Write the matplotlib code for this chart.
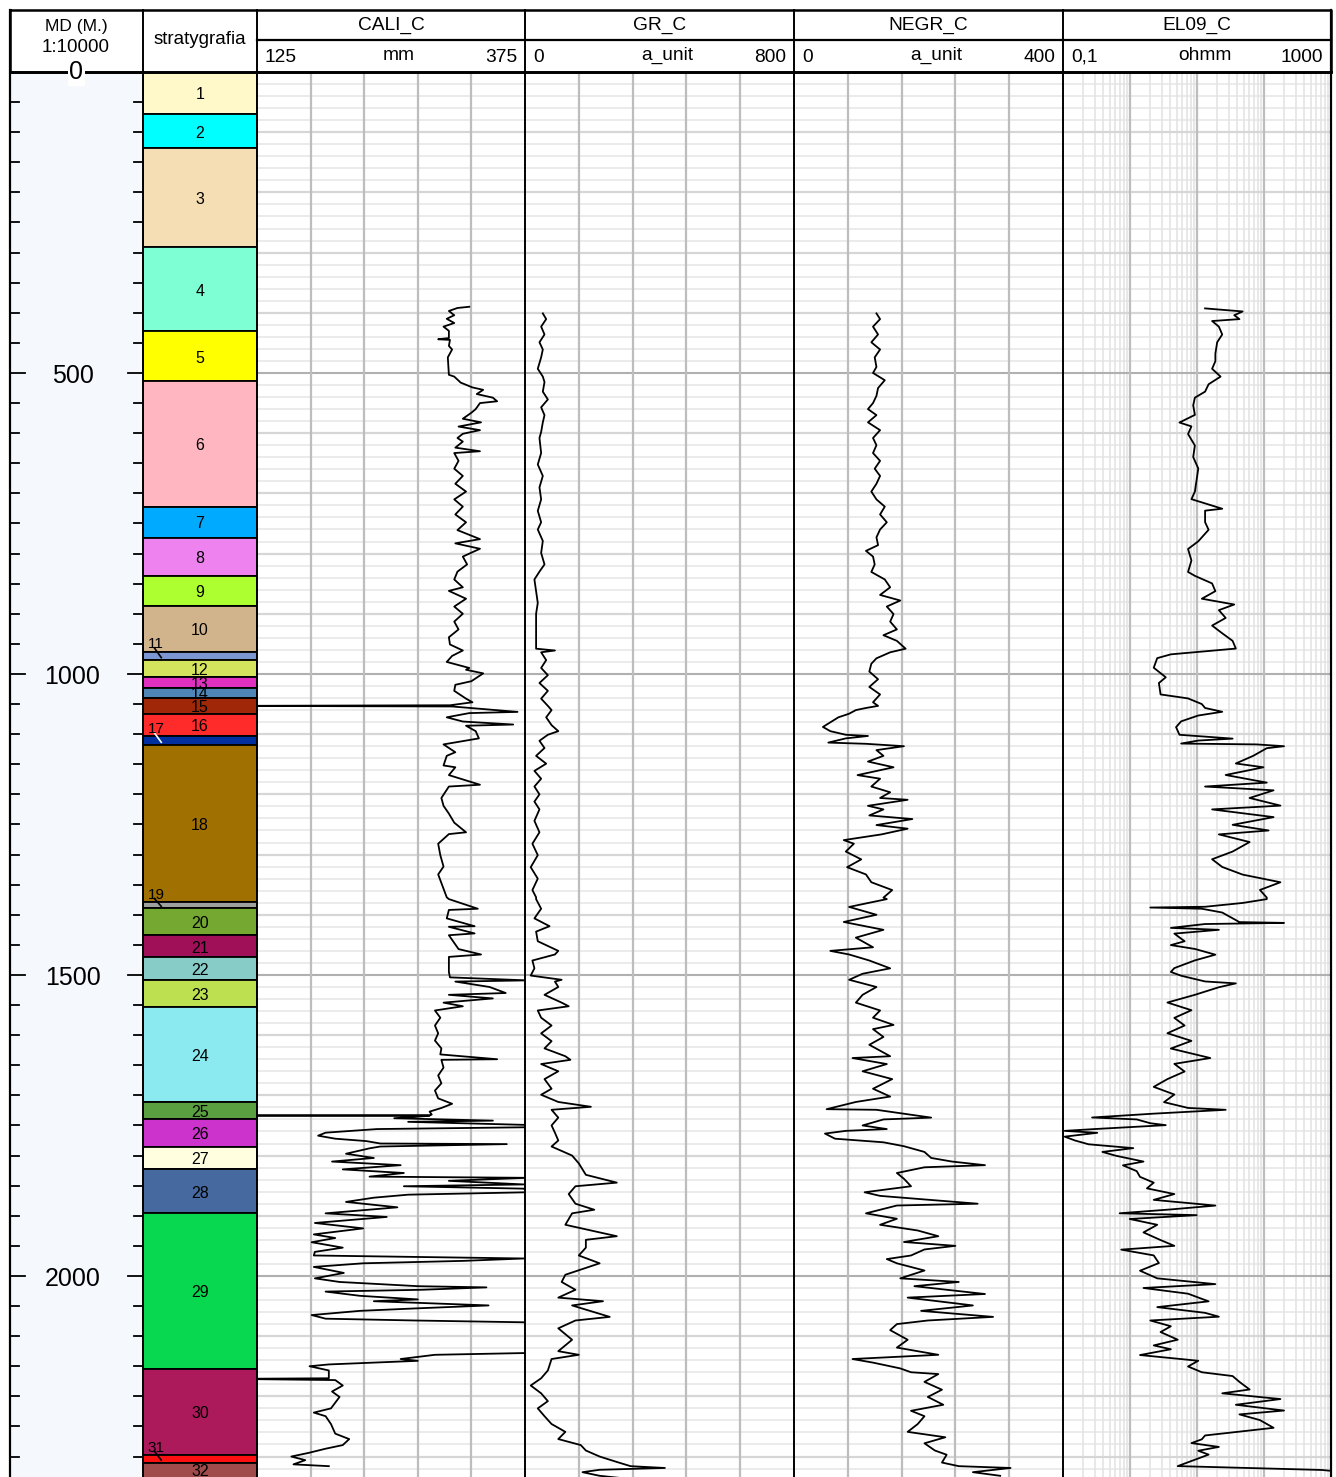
import numpy as np
import matplotlib
matplotlib.use("Agg")
import matplotlib.pyplot as plt
from matplotlib.patches import Rectangle

plt.rcParams['font.family'] = ['Liberation Sans', 'DejaVu Sans']

W, H = 1336, 1477
TOP = 72
DMAX = 2334

# ---- stratigraphy ----
strat_names = [str(i) for i in range(1, 33)]
strat_top = [0, 69.8, 127, 291.5, 431, 514, 721.8, 773.3, 836.5, 887.5, 962.8, 977,
             1005.8, 1022.9, 1040.2, 1066, 1103.8, 1117.6, 1379, 1389, 1434.4, 1470.4,
             1508, 1553.5, 1711.7, 1740, 1785, 1823, 1896, 2154, 2297, 2310]
strat_base = strat_top[1:] + [2400]
strat_colors = ['#fff8c8', '#00ffff', '#f5deb3', '#7fffd4', '#ffff00', '#ffb6c1', '#00aaff',
                '#ee82ee', '#adff2f', '#d2b48c', '#7b96d0', '#d4e45c', '#e030c0', '#4f86b8',
                '#a02808', '#ff2a2a', '#0030a0', '#a07000', '#a0a0a0', '#74a830', '#a01058',
                '#88ccc8', '#bce050', '#8beaf0', '#5aa040', '#cc33cc', '#ffffe0', '#466aa0',
                '#08d850', '#ac1a5c', '#ff1010', '#a04c4c']
thin_layers = ['11', '17', '19', '31']

# ---- CALI_C (mm) ----
cali_depth = [390, 392, 397, 404, 410, 417, 423, 430, 442, 444, 445, 455, 461, 474, 503, 506, 516, 524,
              528, 535, 541, 547, 550, 560, 566, 576, 582, 589, 595, 601, 608, 614, 624, 630, 633, 646,
              659, 671, 684, 697, 710, 722, 735, 748, 761, 776, 783, 792, 805, 818, 830, 843, 856, 862,
              875, 888, 900, 913, 926, 939, 951, 961, 970, 980, 990, 993, 999, 1006, 1012, 1018, 1028,
              1041, 1047, 1052, 1053, 1054, 1063, 1065, 1072, 1079, 1084, 1086, 1095, 1107, 1117, 1123,
              1130, 1136, 1152, 1155, 1168, 1184, 1187, 1206, 1219, 1232, 1247, 1263, 1266, 1282, 1301,
              1320, 1333, 1352, 1371,
              1374, 1390, 1392, 1406, 1419, 1420, 1431, 1434, 1457, 1466, 1470, 1495, 1504, 1509, 1511,
              1520, 1530, 1533, 1539, 1546, 1552, 1559, 1571, 1584, 1597, 1609, 1622, 1632, 1640, 1641,
              1654, 1667, 1680, 1692, 1705, 1714, 1721, 1727, 1732, 1733, 1733.5, 1734, 1738, 1742, 1744,
              1749, 1753, 1756, 1762, 1767, 1772, 1776, 1780, 1781, 1785, 1788, 1797, 1804, 1810, 1816,
              1823, 1829, 1835, 1837, 1842, 1848, 1851, 1855, 1861, 1865, 1870, 1877, 1886, 1896, 1902,
              1912, 1921, 1931, 1937, 1944, 1953, 1960, 1966, 1971, 1975, 1979, 1985, 1995, 2004, 2010,
              2017, 2019, 2023, 2026, 2033, 2039, 2042, 2049, 2054, 2058, 2065, 2071, 2074, 2077, 2080,
              2128, 2131, 2138, 2141, 2147, 2150, 2157, 2170, 2171, 2173, 2182, 2192, 2201, 2220, 2227,
              2233, 2246, 2262, 2271, 2281, 2287, 2294, 2300, 2306, 2313, 2316]
cali_value = [323, 312, 304, 309, 302, 309, 299, 304, 304, 294, 305, 304, 307, 303, 304, 309, 315, 326,
              336, 330, 345, 349, 333, 329, 325, 317, 334, 313, 333, 317, 312, 317, 310, 333, 309, 313,
              309, 317, 310, 320, 309, 317, 310, 320, 312, 333, 310, 333, 317, 321, 312, 309, 317, 304,
              320, 309, 317, 309, 313, 304, 305, 317, 307, 302, 323, 320, 336, 330, 325, 310, 309,
              320, 326, 305, 100, 307, 368, 323, 302, 317, 364, 320, 329, 332, 299, 304,
              310, 302, 299, 310, 304, 333, 304, 297, 299, 304, 309, 320, 304, 294, 296,
              299, 294, 298, 302,
              304, 331, 304, 302, 328, 304, 328, 304, 313, 334, 304, 304, 305, 377, 310,
              342, 357, 304, 345, 299, 317, 291, 296, 291, 294, 291, 297, 296, 349, 297,
              299, 294, 297, 291, 294, 307, 297, 286, 288, 286, 100, 286, 253, 345, 266,
              374, 377, 237, 189, 182, 198, 227, 240, 358, 240, 230, 208, 234, 195, 259,
              205, 262, 230, 377, 304, 374, 262, 374, 377, 266, 234, 208, 256, 189, 246,
              179, 224, 178, 198, 176, 205, 179, 178, 374, 317, 224, 178, 206, 179, 202,
              275, 339, 278, 189, 221, 275, 234, 341, 272, 221, 176, 189, 272, 374, 377,
              377, 291, 259, 275, 192, 174, 192, 192, 100, 198, 205, 195, 202, 194, 178,
              189, 194, 198, 211, 205, 189, 173, 157, 170, 159, 192]

# ---- GR_C (a_unit) ----
gr_depth = [401, 410.5, 423, 436, 449, 461, 474, 493, 506, 515, 531, 544, 557, 570, 582, 598, 608, 633,
            652, 671, 690, 710, 729, 748, 760, 779, 799, 818, 830, 843, 862, 882, 900, 926, 958, 961,
            964, 977, 990, 1002, 1015, 1028, 1041, 1053, 1060, 1072, 1085, 1095, 1101, 1111, 1123, 1136,
            1149, 1161, 1174, 1187, 1200, 1212, 1225, 1244, 1263, 1282, 1301, 1321, 1340, 1359, 1371,
            1374, 1390, 1406, 1419, 1428, 1444, 1460, 1466, 1476, 1489, 1501, 1508, 1511, 1520, 1533,
            1546, 1552, 1559, 1571, 1584, 1597, 1610, 1622, 1635, 1641, 1648, 1660, 1673, 1689, 1699,
            1711, 1719, 1724, 1737, 1750, 1762, 1775, 1785, 1800, 1813, 1832, 1845, 1851, 1864, 1880,
            1890, 1896, 1915, 1934, 1940, 1953, 1966, 1979, 1998, 2010, 2023, 2036, 2042, 2049, 2068,
            2074, 2087, 2106, 2125, 2131, 2138, 2157, 2170, 2182, 2195, 2208, 2220, 2233, 2246, 2259,
            2271, 2281, 2290, 2300, 2309, 2316, 2319, 2322, 2326, 2332, 2338]
gr_value = [53, 63, 48, 58, 43, 53, 48, 38, 53, 58, 53, 68, 48, 58, 53, 48, 43, 48,
            38, 53, 43, 48, 38, 48, 38, 53, 48, 58, 43, 28, 33, 38, 33, 33, 33, 89,
            48, 63, 48, 68, 43, 68, 48, 68, 79, 63, 79, 99, 68, 43, 58, 33,
            63, 28, 48, 28, 43, 28, 43, 28, 43, 22, 38, 17, 38, 22, 33,
            33, 48, 28, 73, 33, 38, 99, 89, 22, 28, 17, 109, 89, 99, 58,
            109, 130, 38, 48, 79, 48, 79, 58, 120, 135, 48, 99, 58, 79, 48,
            99, 196, 79, 99, 79, 89, 99, 79, 140, 160, 181, 273, 150, 130, 150,
            206, 140, 120, 273, 181, 181, 160, 222, 120, 109, 150, 99, 232, 140, 252,
            150, 99, 140, 99, 160, 79, 68, 48, 17, 48, 68, 38, 58, 79, 120,
            99, 166, 181, 222, 273, 314, 416, 222, 171, 222, 324]

# ---- NEGR_C (a_unit) ----
negr_depth = [401, 410.5, 423, 436, 449, 461, 474, 490, 500, 512, 525, 538, 550, 560, 570, 582, 595,
              608, 620, 633, 646, 659, 671, 684, 697, 710, 722, 735, 748, 760, 773, 786, 795.5, 805,
              818, 830.5, 843, 856, 868.7, 878, 888, 900.5, 913, 926, 935.6, 945, 958, 964, 974, 983,
              996, 1008.7, 1021.5, 1034, 1047, 1053, 1056.5, 1060, 1066, 1072, 1079, 1088, 1095, 1101,
              1103, 1107, 1114, 1116, 1120, 1126.5, 1136, 1145.5, 1155, 1168, 1174, 1187, 1196.5, 1206,
              1209, 1219, 1225, 1235, 1241, 1251, 1257, 1266.5, 1276, 1282, 1295, 1308, 1321, 1333,
              1346, 1359, 1371.5,
              1374, 1387, 1400, 1412, 1425, 1438, 1454, 1460, 1466, 1476, 1489, 1498, 1508, 1520, 1533,
              1546, 1559, 1571, 1583, 1590, 1603, 1616, 1635, 1638, 1648, 1660, 1673, 1689, 1702, 1711,
              1723, 1724, 1737, 1740, 1750, 1756, 1759, 1763.5, 1772, 1778, 1784.5, 1794, 1804, 1810,
              1816, 1819.5, 1829, 1838.6, 1851, 1861, 1867, 1880, 1883, 1896, 1905, 1915, 1924.5, 1934,
              1943.6, 1950, 1956, 1966, 1972, 1979, 1991, 2004, 2010, 2017, 2030, 2036, 2049, 2058,
              2068, 2074, 2080, 2090, 2106, 2119, 2131, 2138, 2144, 2153.6, 2160, 2163, 2176, 2189,
              2201, 2214, 2224, 2233, 2246, 2259, 2268, 2278, 2290, 2297, 2310, 2316, 2319, 2326, 2332]
negr_value = [122.6, 128, 117.5, 125, 115, 128, 120, 122.6, 117.5, 135, 125, 122.6, 117.5, 110, 122.6,
              110, 128, 117.5, 122.6, 117.5, 128, 120, 128, 122.6, 115, 122.6, 135, 128, 138, 128,
              122.6, 125, 107, 117.5, 120, 115, 135, 143, 128, 158, 138, 148, 143, 153, 133, 153,
              166, 143, 122.6, 115, 112, 125, 112, 128, 117.5, 125, 107, 92, 82, 66, 56, 43, 54, 77,
              110, 77, 51, 107, 163.5, 122.6, 133, 110, 148, 94.5, 128, 115, 143, 128, 169, 110, 133,
              112, 176, 122.6, 169, 130, 74, 89, 77, 100, 79, 107, 115, 146, 133,
              138, 82, 122.6, 74, 133, 92, 117.5, 54, 82, 112, 143, 102, 82, 122.6, 102,
              92, 128, 117.5, 148, 117.5, 133, 112, 143, 87, 138, 102, 146, 117.5, 143, 92,
              48.5, 122.6, 204, 133, 102, 138, 77, 46, 61, 133, 163.5, 194, 204, 235,
              284, 194, 153, 163.5, 174, 105, 128, 273, 153, 107, 153, 128, 184, 214.6,
              163.5, 240, 194, 174, 138, 153, 194, 158, 245, 179, 284, 169, 266, 189,
              296, 199, 153, 143, 169, 153, 214.6, 87, 117.5, 158, 174, 214.6, 194, 220,
              199, 222, 174, 194, 184, 169, 225, 194, 209.5, 227, 220, 245, 322, 266, 306.6]

# ---- EL09_C (ohmm) ----
el_depth = [392.7, 397.8, 404, 410.5, 413.7, 423, 436, 449, 467.8, 480.5, 493, 506, 518.7, 531, 541,
            553.7, 569.6, 582.3, 588.7, 601.4, 620.5, 639.6, 658.7, 677.8, 697, 709.6, 725.5, 728.7,
            747.8, 760.5, 779.6, 792.4, 811.5, 830.5, 837, 849.6, 862.4, 875, 884.6, 894, 906.9, 919.6,
            932.4, 945, 957.8, 967.4, 973.7, 989.6, 1005.5, 1015, 1034, 1040.6, 1050, 1056.5, 1062.8,
            1069, 1078.7, 1088.3, 1101, 1107.4, 1110.6, 1115.6, 1117, 1120, 1123.3, 1136, 1148.7, 1155,
            1167.8, 1180.5, 1187, 1193.3, 1206, 1218.7, 1225, 1237.8, 1250.6, 1260, 1266.5, 1279.2,
            1295, 1307.8, 1320.6, 1333.3, 1346, 1358.8, 1371.5,
            1374, 1380.4, 1386.7, 1388, 1390, 1396.3, 1402.7, 1412.2, 1413.5, 1415.4, 1421.8, 1425,
            1431.3, 1444, 1450.4, 1456.8, 1466.3, 1475.8, 1488.6, 1495, 1501.3, 1510.8, 1514, 1520.4,
            1533, 1545.8, 1558.6, 1571.3, 1584, 1596.8, 1609.5, 1622.2, 1638, 1647.7, 1660.4, 1673,
            1685.9, 1698.6, 1711.3, 1720.9, 1724, 1730.4, 1736.8, 1740, 1746.3, 1749.5, 1755.9, 1759,
            1762.2, 1768.6, 1775, 1781.3, 1787.7, 1794, 1800.4, 1810, 1816.3, 1825.9, 1835.4, 1845,
            1854.5, 1864, 1873.6, 1883.1, 1889.5, 1895.9, 1899, 1905.4, 1915, 1927.7, 1940.4, 1950,
            1956.3, 1965.9, 1978.6, 1991.3, 2004, 2013.6, 2020, 2029.5, 2042.2, 2051.8, 2061.3, 2067.7,
            2074, 2083.6, 2093.2, 2105.9, 2115.4, 2121.8, 2131.4, 2140.9, 2150.4, 2160, 2166.3, 2176,
            2188.6, 2195, 2204.5, 2214, 2223.6, 2230, 2239.5, 2252.3, 2265, 2271.4, 2277.7, 2284,
            2290.4, 2296.8, 2309.5, 2315.9, 2322.3, 2325.5, 2328.6, 2335]
el_value = [13.2, 48, 36, 43, 16.8, 21.2, 23.8, 20, 18.8, 18.8, 16.8, 22.5, 14.9, 13.2, 9.3,
            8.77, 9.3, 5.47, 8.26, 7.35, 9.3, 8.77, 10.45, 9.86, 9.3, 8.26, 23.8, 13.2,
            13.2, 14.9, 10.45, 7.35, 8.26, 7.35, 9.3, 16.8, 18.8, 11.8, 36, 21.2, 26.8, 16.8,
            23.8, 34, 38, 4.07, 2.55, 2.26, 3.42, 2.7, 2.86, 7.35, 11.8, 13.2, 23.8,
            10.45, 5.8, 4.87, 5.47, 34, 10.45, 5.8, 77, 199, 110, 69, 38, 98,
            26.8, 110, 13.2, 139, 61, 176, 16.8, 139, 34, 117, 21.2, 61,
            34, 16.8, 23.8, 48, 176, 87, 110,
            110, 48, 13.2, 2.01, 11.8, 23.8, 30.2, 43, 199, 13.2, 4.07, 21.2,
            4.59, 6.53, 4.07, 9.3, 18.8, 9.3, 4.59, 4.07, 5.8, 13.2, 38, 21.2,
            9.3, 3.62, 8.26, 4.59, 6.53, 3.62, 8.26, 4.07, 15.8, 4.59, 6.53, 3.62,
            2.26, 4.59, 3.22, 7.35, 26.8, 2.26, 0.272, 1.26, 2.01, 3.42, 0.306, 0.106,
            0.325, 0.106, 0.151, 0.241, 1.12, 0.387, 0.62, 1.59, 0.785, 1.26, 1.41, 2.26,
            1.79, 4.59, 2.26, 18.8, 4.07, 0.70, 9.86, 0.99, 2.55, 1.59, 2.86, 4.59,
            0.74, 2.26, 2.7, 1.41, 2.55, 18.8, 1.59, 7.35, 14.9, 2.55, 13.2, 21.2,
            2.01, 4.07, 2.86, 5.16, 2.26, 4.07, 1.41, 10.45, 7.35, 11.8, 34, 43,
            61, 23.8, 176, 38, 199, 43, 87, 139, 13.2, 11.8, 8.26, 21.2,
            10.45, 14.9, 7.35, 5.16, 724, 1500, 1500, 1500]

tracks = [
    ('CALI_C', 'mm', '125', '375', cali_depth, cali_value, (125, 375), 'linear'),
    ('GR_C', 'a_unit', '0', '800', gr_depth, gr_value, (0, 800), 'linear'),
    ('NEGR_C', 'a_unit', '0', '400', negr_depth, negr_value, (0, 400), 'linear'),
    ('EL09_C', 'ohmm', '0,1', '1000', el_depth, el_value, (0.1, 1000), 'log'),
]
track_x = [257, 525, 794, 1063, 1331]

fig = plt.figure(figsize=(W / 100, H / 100), dpi=100)


def px_axes(x0, x1):
    return fig.add_axes([x0 / W, 0, (x1 - x0) / W, (H - TOP) / H])


def hgrid(ax):
    for d in range(20, DMAX, 20):
        if d % 500 == 0:
            ax.axhline(d, color='#b0b0b0', lw=1.5, zorder=1)
        elif d % 100 == 0:
            ax.axhline(d, color='#d6d6d6', lw=1.6, zorder=0.8)
        else:
            ax.axhline(d, color='#e6e6e6', lw=1.1, zorder=0.5)


# depth track
ax_d = px_axes(10, 143)
ax_d.set_facecolor('#f5f9fe')
ax_d.set_xlim(0, 1)
ax_d.set_ylim(DMAX, 0)
ax_d.set_xticks([])
ax_d.set_yticks([])
for s in ax_d.spines.values():
    s.set_visible(False)
for d in range(50, DMAX, 50):
    ln = 0.11 if d % 500 == 0 else 0.065
    ax_d.plot([0, ln], [d, d], color='black', lw=1.3)
    ax_d.plot([1 - ln, 1], [d, d], color='black', lw=1.3)
    if d % 500 == 0:
        ax_d.text(0.47, d + 5, str(d), ha='center', va='center', fontsize=18)

# stratigraphy track
ax_s = px_axes(143, 257)
ax_s.set_xlim(0, 1)
ax_s.set_ylim(DMAX, 0)
ax_s.set_xticks([])
ax_s.set_yticks([])
for s in ax_s.spines.values():
    s.set_visible(False)
for name, t, b, c in zip(strat_names, strat_top, strat_base, strat_colors):
    ax_s.add_patch(Rectangle((0, t), 1, b - t, facecolor=c, edgecolor='black', lw=1.3))
    if name in thin_layers:
        lead = 'white' if name == '17' else 'black'
        ax_s.text(0.04, t - 12, name, ha='left', va='center', fontsize=11)
        ax_s.plot([0.1, 0.16], [t - 6, t + (b - t) * 0.7], color=lead, lw=1.2)
    else:
        mid = (t + min(b, DMAX)) / 2
        ax_s.text(0.5, mid + 3, name, ha='center', va='center', fontsize=11.5)

# curve tracks
for i, (name, unit, lo, hi, dep, val, xr, scale) in enumerate(tracks):
    ax = px_axes(track_x[i], track_x[i + 1])
    ax.set_xscale(scale)
    ax.set_xlim(*xr)
    ax.set_ylim(DMAX, 0)
    ax.set_xticks([])
    ax.set_yticks([])
    ax.minorticks_off()
    for s in ax.spines.values():
        s.set_visible(False)
    hgrid(ax)
    if scale == 'log':
        for n in [-1, 0, 1, 2]:
            for k in range(2, 10):
                ax.axvline(k * 10.0 ** n, color='#e2e2e2', lw=1.1, zorder=0.6)
        for v in [1, 10, 100]:
            ax.axvline(v, color='#bdbdbd', lw=1.6, zorder=1)
    else:
        step = (xr[1] - xr[0]) / 5
        for k in range(1, 5):
            ax.axvline(xr[0] + k * step, color='#bdbdbd', lw=1.6, zorder=1)
    ax.plot(val, dep, color='black', lw=1.3, zorder=3)

# header and borders (pixel overlay)
ov = fig.add_axes([0, 0, 1, 1])
ov.set_xlim(0, W)
ov.set_ylim(H, 0)
ov.axis('off')
ov.patch.set_alpha(0)
ov.plot([10, 1331, 1331, 10, 10], [10, 10, 72, 72, 10], color='black', lw=1.8)
ov.plot([257, 1331], [40, 40], color='black', lw=1.6)
for x in [10, 143, 257, 525, 794, 1063, 1331]:
    ov.plot([x, x], [10, H], color='black', lw=1.4 if x not in (10, 1331) else 1.6)
ov.plot([10, 1331], [72, 72], color='black', lw=2.0)

ov.text(76, 27, 'MD (M.)', ha='center', va='center', fontsize=12.5)
ov.text(76, 48, '1:10000', ha='center', va='center', fontsize=13.5)
ov.text(76, 72, '0', ha='center', va='center', fontsize=18,
        bbox=dict(facecolor='white', edgecolor='none', pad=1))
ov.text(200, 40, 'stratygrafia', ha='center', va='center', fontsize=13.5)
for i, (name, unit, lo, hi, dep, val, xr, scale) in enumerate(tracks):
    x0, x1 = track_x[i], track_x[i + 1]
    ov.text((x0 + x1) / 2, 25, name, ha='center', va='center', fontsize=13.8)
    ov.text(x0 + 8, 57, lo, ha='left', va='center', fontsize=13.8)
    ov.text((x0 + x1) / 2 + 8, 55, unit, ha='center', va='center', fontsize=13.8)
    ov.text(x1 - 8, 57, hi, ha='right', va='center', fontsize=13.8)

fig.savefig('out.png', dpi=100)
